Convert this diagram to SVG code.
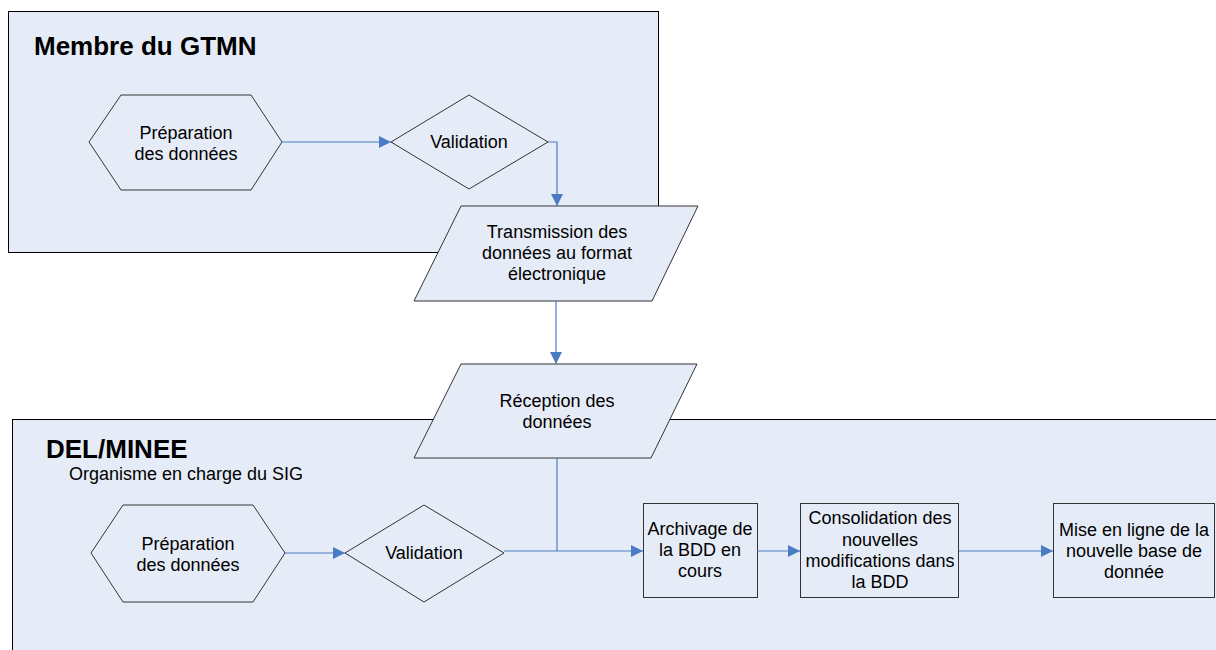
<svg xmlns="http://www.w3.org/2000/svg" width="1216" height="650" viewBox="0 0 1216 650">
<defs>
<style>
.lane{fill:#e6ecf7;stroke:#000;stroke-width:1}
.shape{fill:#e6ecf7;stroke:#333;stroke-width:1}
.t{font-family:"Liberation Sans",Arial,sans-serif;font-size:18px;fill:#000;text-anchor:middle}
.title{font-family:"Liberation Sans",Arial,sans-serif;font-size:26px;font-weight:bold;fill:#000}
.sub{font-family:"Liberation Sans",Arial,sans-serif;font-size:18px;fill:#000}
.c{fill:none;stroke:#4a7cc4;stroke-width:1.2}
</style>
<marker id="arr" markerWidth="12" markerHeight="12" refX="12" refY="6" orient="auto" markerUnits="userSpaceOnUse">
<path d="M0,0 L12,6 L0,12 Z" fill="#4a7cc4"/>
</marker>
</defs>
<rect width="1216" height="650" fill="#fff"/>
<g id="lane-gtmn">
<rect class="lane" x="8.5" y="11.5" width="650" height="241"/>
<text class="title" x="34" y="55">Membre du GTMN</text>
</g>
<g id="lane-minee">
<rect class="lane" x="12.5" y="419.5" width="1215" height="240"/>
<text class="title" x="46" y="458">DEL/MINEE</text>
<text class="sub" x="69" y="480">Organisme en charge du SIG</text>
</g>
<g id="prep1">
<polygon class="shape" points="89,142 121,95 251,95 282,142 251,190 121,190"/>
<text class="t" x="186" y="139">Préparation</text>
<text class="t" x="186" y="160">des données</text>
</g>
<g id="valid1">
<polygon class="shape" points="391,142 469,95 548,142 469,189"/>
<text class="t" x="469" y="148">Validation</text>
</g>
<g id="transmission">
<polygon class="shape" points="461,206 698,206 652,301 414,301"/>
<text class="t" x="557" y="238">Transmission des</text>
<text class="t" x="557" y="259">données au format</text>
<text class="t" x="557" y="280">électronique</text>
</g>
<g id="reception">
<polygon class="shape" points="461,364 697,364 651,458 414,458"/>
<text class="t" x="557" y="407">Réception des</text>
<text class="t" x="557" y="428">données</text>
</g>
<g id="prep2">
<polygon class="shape" points="91,553 123,505 253,505 285,553 253,602 123,602"/>
<text class="t" x="188" y="550">Préparation</text>
<text class="t" x="188" y="571">des données</text>
</g>
<g id="valid2">
<polygon class="shape" points="345,553 424,505 504,553 424,602"/>
<text class="t" x="424" y="559">Validation</text>
</g>
<g id="archivage">
<rect class="shape" x="643.5" y="503.5" width="114" height="94"/>
<text class="t" x="700" y="535">Archivage de</text>
<text class="t" x="700" y="556">la BDD en</text>
<text class="t" x="700" y="577">cours</text>
</g>
<g id="consolidation">
<rect class="shape" x="800.5" y="503.5" width="158" height="94"/>
<text class="t" x="880" y="524">Consolidation des</text>
<text class="t" x="880" y="546">nouvelles</text>
<text class="t" x="880" y="567">modifications dans</text>
<text class="t" x="880" y="588">la BDD</text>
</g>
<g id="miseenligne">
<rect class="shape" x="1053.5" y="503.5" width="161" height="94"/>
<text class="t" x="1134" y="536">Mise en ligne de la</text>
<text class="t" x="1134" y="557">nouvelle base de</text>
<text class="t" x="1134" y="578">donnée</text>
</g>
<g id="connectors">
<path class="c" d="M282,142 H391" marker-end="url(#arr)"/>
<path class="c" d="M548,142 H557 V206" marker-end="url(#arr)"/>
<path class="c" d="M556,301 V364" marker-end="url(#arr)"/>
<path class="c" d="M285,553 H345" marker-end="url(#arr)"/>
<path class="c" d="M504,551 H643" marker-end="url(#arr)"/>
<path class="c" d="M557,458 V551"/>
<path class="c" d="M757,551 H800" marker-end="url(#arr)"/>
<path class="c" d="M959,551 H1053" marker-end="url(#arr)"/>
</g>
</svg>
